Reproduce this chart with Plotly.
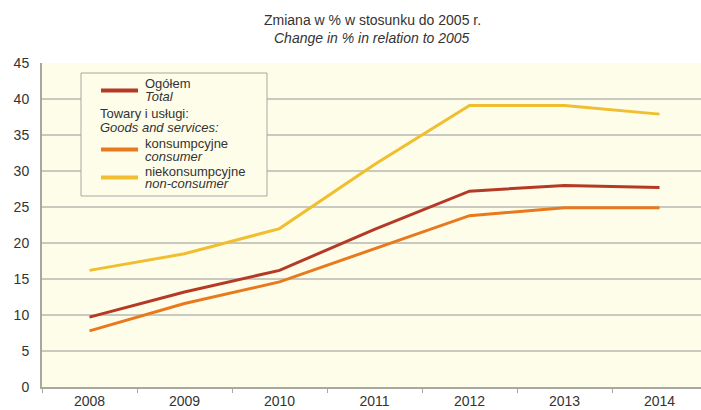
import plotly.graph_objects as go

years = ["2008", "2009", "2010", "2011", "2012", "2013", "2014"]
ogolem = [9.7, 13.2, 16.2, 21.9, 27.2, 28.0, 27.7]
konsumpcyjne = [7.8, 11.6, 14.6, 19.2, 23.8, 24.9, 24.9]
niekonsumpcyjne = [16.2, 18.5, 22.0, 30.9, 39.1, 39.1, 37.9]
y_ticks = [0, 5, 10, 15, 20, 25, 30, 35, 40, 45]

C_TOTAL = "#B53A26"
C_CONS = "#E8791C"
C_NON = "#F0BE2E"
FONT = "Liberation Sans, Arial, sans-serif"

W, H = 701, 410
L, R, T, B = 42, 0, 63, 23
PW, PH = W - L - R, H - T - B


def px(x):
    return (x - L) / PW


def py(y):
    return (H - B - y) / PH


fig = go.Figure()
for name, vals, col in [("Ogółem", ogolem, C_TOTAL),
                        ("konsumpcyjne", konsumpcyjne, C_CONS),
                        ("niekonsumpcyjne", niekonsumpcyjne, C_NON)]:
    fig.add_trace(go.Scatter(x=years, y=vals, mode="lines", name=name,
                             line=dict(color=col, width=3), showlegend=False,
                             hoverinfo="x+y+name"))

shapes = []
annotations = []

# legend box
shapes.append(dict(type="rect", xref="paper", yref="paper",
                   x0=px(81), x1=px(267), y0=py(196), y1=py(73),
                   line=dict(color="#A8A8A0", width=1), fillcolor="#FEFDEA", layer="above"))
legend_items = [(C_TOTAL, 90.5, "Ogółem", "Total", 84, 96.5),
                (C_CONS, 149.5, "konsumpcyjne", "consumer", 143, 156),
                (C_NON, 177.5, "niekonsumpcyjne", "non-consumer", 171, 183.5)]
LF = dict(size=13, color="#333333", family=FONT)
for col, ly, t1, t2, y1, y2 in legend_items:
    shapes.append(dict(type="line", xref="paper", yref="paper",
                       x0=px(101), x1=px(138), y0=py(ly), y1=py(ly),
                       line=dict(color=col, width=4), layer="above"))
    annotations.append(dict(xref="paper", yref="paper", x=px(144), y=py(y1),
                            text=t1, showarrow=False, xanchor="left", yanchor="middle",
                            borderpad=0, font=LF))
    annotations.append(dict(xref="paper", yref="paper", x=px(144), y=py(y2),
                            text="<i>" + t2 + "</i>", showarrow=False, xanchor="left",
                            yanchor="middle", borderpad=0, font=LF))
annotations.append(dict(xref="paper", yref="paper", x=px(99), y=py(113),
                        text="Towary i usługi:", showarrow=False, xanchor="left",
                        yanchor="middle", borderpad=0, font=LF))
annotations.append(dict(xref="paper", yref="paper", x=px(99), y=py(127),
                        text="<i>Goods and services:</i>", showarrow=False, xanchor="left",
                        yanchor="middle", borderpad=0, font=LF))

# title
TF = dict(size=14, color="#333333", family=FONT)
annotations.append(dict(xref="paper", yref="paper", x=px(372), y=py(20),
                        text="Zmiana w % w stosunku do 2005 r.", showarrow=False,
                        xanchor="center", yanchor="middle", font=TF))
annotations.append(dict(xref="paper", yref="paper", x=px(372), y=py(38),
                        text="<i>Change in % in relation to 2005</i>", showarrow=False,
                        xanchor="center", yanchor="middle", font=TF))

fig.update_layout(
    width=W, height=H,
    margin=dict(l=L, r=R, t=T, b=B),
    paper_bgcolor="white",
    plot_bgcolor="#FEFDEA",
    font=dict(family=FONT, size=14, color="#333333"),
    shapes=shapes,
    annotations=annotations,
    showlegend=False,
)
fig.update_xaxes(type="category", range=[-0.5, -0.5 + PW / 95.0],
                 showgrid=False, showline=True, linecolor="#A8A8A0", linewidth=2,
                 ticks="outside", tickson="boundaries", ticklen=4, tickcolor="#A8A8A0",
                 tickfont=dict(size=14, color="#333333"), fixedrange=True)
fig.update_yaxes(range=[0, 45], tickvals=y_ticks, showgrid=True,
                 gridcolor="#C9C9C0", gridwidth=1.5, showline=True,
                 linecolor="#A8A8A0", linewidth=2, ticks="", zeroline=False,
                 ticklabelstandoff=8, tickfont=dict(size=14, color="#333333"), fixedrange=True)

fig.write_html("out.html", config={"displayModeBar": False},
               post_script="document.body.style.margin='0';document.body.style.overflow='hidden';")
